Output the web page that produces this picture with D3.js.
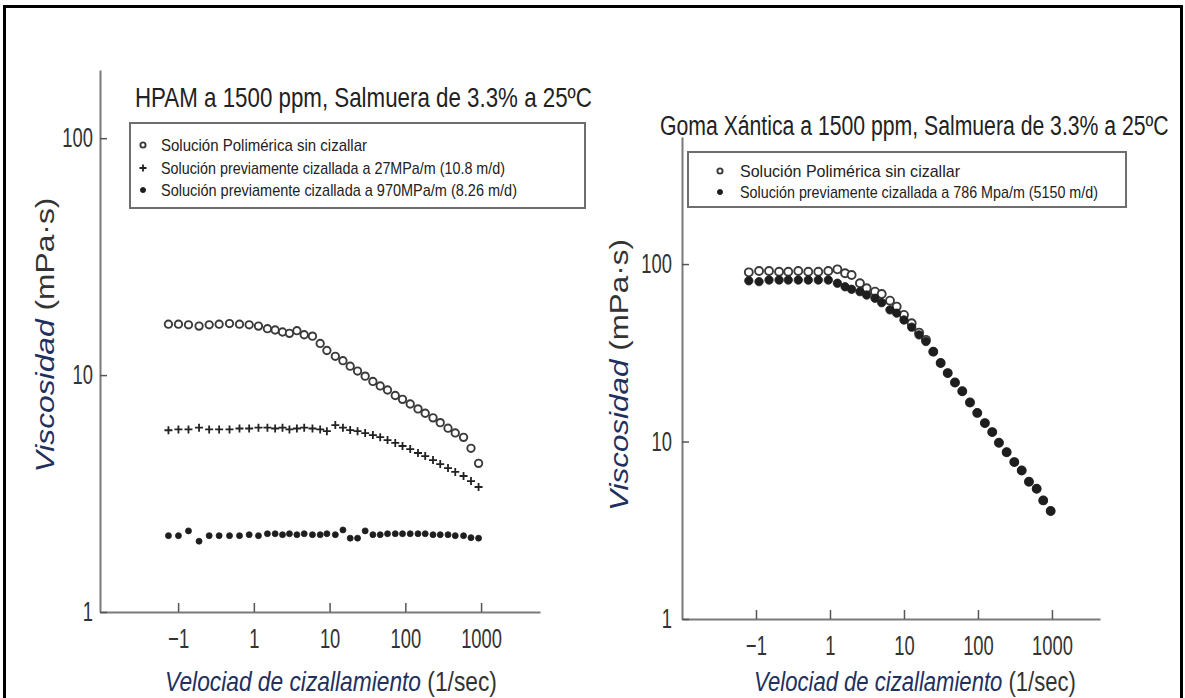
<!DOCTYPE html>
<html>
<head>
<meta charset="utf-8">
<script src="https://d3js.org/d3.v7.min.js"></script>
<style>
  body { margin: 0; background: #fff; }
  svg text { font-family: "Liberation Sans", Arial, sans-serif; }
</style>
</head>
<body>
<div id="chart"></div>
<script>
// ---- values ----
const xTickValues = [0.1, 1, 10, 100, 1000];
const xTickLabels = ["\u22121", "1", "10", "100", "1000"];
const yTickValues = [1, 10, 100];
const yTickLabels = ["1", "10", "100"];

// HPAM panel (shear rate 1/s, viscosity mPa.s)
const titleHpam = "HPAM a 1500 ppm, Salmuera de 3.3% a 25ºC";
const shearHpam = [0.0745, 0.101, 0.137, 0.189, 0.257, 0.348, 0.477, 0.646, 0.867, 1.15,
    1.51, 1.91, 2.39, 2.95, 3.70, 4.62, 5.94, 7.51, 9.21, 11.9,
    15.0, 18.7, 23.4, 29.5, 37.3, 46.6, 58.2, 73.6, 91.8, 116,
    147, 183, 232, 289, 366, 456, 587, 736, 927];
const hpamSinCizallar = [16.4, 16.4, 16.3, 16.1, 16.3, 16.4, 16.5, 16.4, 16.3, 16.1,
    15.7, 15.5, 15.2, 15.0, 15.4, 14.8, 14.6, 13.6, 12.7, 12.0,
    11.5, 10.9, 10.4, 9.9, 9.4, 9.0, 8.65, 8.2, 7.9, 7.55,
    7.2, 6.9, 6.6, 6.3, 5.97, 5.7, 5.46, 4.91, 4.24];
const hpam27 = [5.85, 5.9, 5.9, 6.0, 5.9, 5.9, 5.9, 5.95, 5.95, 6.0,
    6.0, 5.95, 6.0, 5.9, 5.95, 6.0, 5.95, 5.9, 5.8, 6.15,
    6.0, 5.86, 5.80, 5.69, 5.58, 5.47, 5.32, 5.17, 5.02, 4.87,
    4.69, 4.55, 4.38, 4.21, 4.05, 3.90, 3.75, 3.57, 3.37];
const hpam970 = [2.10, 2.10, 2.20, 1.99, 2.10, 2.10, 2.10, 2.10, 2.12, 2.10,
    2.14, 2.14, 2.12, 2.14, 2.12, 2.14, 2.12, 2.12, 2.14, 2.12,
    2.22, 2.05, 2.05, 2.20, 2.12, 2.12, 2.14, 2.14, 2.14, 2.14,
    2.14, 2.14, 2.12, 2.12, 2.12, 2.10, 2.10, 2.06, 2.05];
const legendHpam = ["Solución Polimérica sin cizallar",
    "Solución previamente cizallada a 27MPa/m (10.8 m/d)",
    "Solución previamente cizallada a 970MPa/m (8.26 m/d)"];

// Goma xantica panel
const titleXantica = "Goma Xántica a 1500 ppm, Salmuera de 3.3% a 25ºC";
const shearXantica = [0.080, 0.110, 0.150, 0.205, 0.273, 0.373, 0.509, 0.695, 0.949, 1.26,
    1.60, 1.96, 2.54, 3.13, 4.06, 5.00, 6.47, 7.97, 10.0, 12.7,
    16.0, 19.8, 24.9, 31.3, 39.0, 48.9, 61.4, 78.0, 97.9, 124,
    156, 192, 244, 310, 390, 489, 621, 762, 960];
const xanticaSinCizallar = [89.8, 91.4, 91.4, 90.6, 90.6, 91.4, 90.6, 90.6, 91.4, 93.4,
    88.7, 86.7, 78.0, 73.1, 69.9, 67.8, 62.2, 57.6, 51.7, 46.4,
    41.1, 37.4, 32.1, 27.7, 24.3, 21.5, 19.2, 16.6, 14.5, 12.7,
    11.3, 9.84, 8.71, 7.66, 6.87, 5.94, 5.42, 4.66, 4.06];
const xantica786 = [80.5, 79.6, 81.3, 81.3, 81.3, 81.3, 81.3, 81.3, 81.3, 78.0,
    74.5, 72.1, 69.9, 66.9, 64.2, 60.6, 55.2, 52.9, 48.4, 44.1,
    39.9, 36.6, 32.1, 27.7, 24.3, 21.5, 19.2, 16.6, 14.5, 12.7,
    11.3, 9.84, 8.71, 7.66, 6.87, 5.94, 5.42, 4.66, 4.06];
const legendXantica = ["Solución Polimérica sin cizallar",
    "Solución previamente cizallada a 786 Mpa/m (5150 m/d)"];

const xTitleItalic = "Velociad de cizallamiento";
const xTitleUnit = " (1/sec)";
const yTitleItalic = "Viscosidad";
const yTitleUnit = " (mPa·s)";

// ---- drawing ----
const width = 1185;
const height = 698;

const svg = d3.select("#chart")
    .append("svg")
    .attr("width", width)
    .attr("height", height);

// outer frame (bottom runs off the picture)
svg.append("rect")
    .attr("x", 4.5).attr("y", 6.5)
    .attr("width", 1177).attr("height", 740)
    .attr("fill", "none")
    .attr("stroke", "#000")
    .attr("stroke-width", 3);

// squeeze a text to a given width
function fitWidth(sel, w) {
    sel.each(function () {
        d3.select(this).attr("textLength", w).attr("lengthAdjust", "spacingAndGlyphs");
    });
}
function condense(sel, k) {
    sel.each(function () {
        const w = this.getComputedTextLength();
        d3.select(this).attr("textLength", w * k).attr("lengthAdjust", "spacingAndGlyphs");
    });
}
// place a text at (x, y) and scale it horizontally to width w
function placeScaled(sel, x, y, w, rotate) {
    const k = w / sel.node().getComputedTextLength();
    sel.attr("transform", "translate(" + x + "," + y + ")" +
        (rotate ? " rotate(" + rotate + ")" : "") + " scale(" + k + ",1)");
}

function drawMarks(g, data, type, r, x, y) {
    if (type === "plus") {
        g.append("g").selectAll("path")
            .data(data)
            .join("path")
            .attr("d", d => "M" + (x(d[0]) - r) + "," + y(d[1]) + "h" + (2 * r) +
                "M" + x(d[0]) + "," + (y(d[1]) - r) + "v" + (2 * r))
            .attr("stroke", "#222")
            .attr("stroke-width", 1.8);
    } else {
        g.append("g").selectAll("circle")
            .data(data)
            .join("circle")
            .attr("cx", d => x(d[0]))
            .attr("cy", d => y(d[1]))
            .attr("r", r)
            .attr("fill", type === "open" ? "#fff" : "#1e1e1e")
            .attr("stroke", type === "open" ? "#3a3a3a" : "#1e1e1e")
            .attr("stroke-width", type === "open" ? 1.9 : 0.8);
    }
}

function drawPanel(p) {
    const g = svg.append("g");

    const x = d3.scaleLog().domain(p.xDomain).range([p.left, p.right]);
    const y = d3.scaleLog().domain(p.yDomain).range([p.bottom, p.top]);

    // axes with inward ticks
    const gx = g.append("g")
        .attr("transform", "translate(0," + p.bottom + ")")
        .call(d3.axisBottom(x)
            .tickValues(xTickValues)
            .tickFormat((d, i) => xTickLabels[i])
            .tickSizeInner(-9).tickSizeOuter(0).tickPadding(p.xPad));
    const gy = g.append("g")
        .attr("transform", "translate(" + p.left + ",0)")
        .call(d3.axisLeft(y)
            .tickValues(yTickValues)
            .tickFormat((d, i) => yTickLabels[i])
            .tickSizeInner(-7).tickSizeOuter(0).tickPadding(p.yPad));
    [gx, gy].forEach(function (a) {
        a.attr("font-family", null).attr("font-size", null);
        a.select(".domain").attr("stroke", "#7a7a7a").attr("stroke-width", 2);
        a.selectAll(".tick line").attr("stroke", "#555").attr("stroke-width", 1.5);
        a.selectAll(".tick text")
            .attr("fill", "#333")
            .style("font-size", "27px")
            .call(condense, 0.68);
    });

    // data
    p.series.forEach(function (s) {
        const data = s.values.map((v, i) => [p.shear[i], v]);
        drawMarks(g, data, s.type, s.r, x, y);
    });

    // title
    g.append("text")
        .attr("fill", "#222")
        .style("font-size", p.titleSize + "px")
        .text(p.title)
        .call(placeScaled, p.titleX, p.titleY, p.titleW);

    // legend
    const lg = g.append("g");
    lg.append("rect")
        .attr("x", p.legend.x0).attr("y", p.legend.y0)
        .attr("width", p.legend.x1 - p.legend.x0)
        .attr("height", p.legend.y1 - p.legend.y0)
        .attr("fill", "#fff")
        .attr("stroke", "#6e6e6e")
        .attr("stroke-width", 2);
    p.legend.labels.forEach(function (label, i) {
        const cy = p.legend.rows[i];
        const s = p.series[i];
        drawMarks(lg, [[0, 0]], s.type, s.type === "plus" ? 3.5 : 2.6,
            () => p.legend.markX, () => cy);
        lg.append("text")
            .attr("x", p.legend.textX).attr("y", cy)
            .attr("dy", "0.36em")
            .attr("fill", "#222")
            .style("font-size", "17px")
            .text(label)
            .call(fitWidth, p.legend.widths[i]);
    });

    // x title
    const xt = g.append("text")
        .attr("text-anchor", "middle")
        .style("font-size", "28px");
    xt.append("tspan").attr("font-style", "italic").attr("fill", "#22305e").text(xTitleItalic);
    xt.append("tspan").attr("fill", "#333").text(xTitleUnit);
    xt.call(placeScaled, p.xTitleX, p.xTitleY, p.xTitleW);

    // y title
    const yt = g.append("text")
        .attr("text-anchor", "middle")
        .style("font-size", "26px");
    yt.append("tspan").attr("font-style", "italic").attr("fill", "#22305e").text(yTitleItalic);
    yt.append("tspan").attr("fill", "#333").text(yTitleUnit);
    yt.call(placeScaled, p.yTitleX, p.yTitleY, p.yTitleLen, -90);
}

drawPanel({
    left: 100, right: 540, top: 70, bottom: 612,
    xDomain: [0.0093, 6000], yDomain: [1, 194],
    xPad: 17, yPad: 7,
    shear: shearHpam,
    series: [
        {values: hpamSinCizallar, type: "open", r: 3.7},
        {values: hpam27, type: "plus", r: 4},
        {values: hpam970, type: "dot", r: 3}
    ],
    title: titleHpam, titleX: 135, titleY: 107, titleW: 457, titleSize: 27,
    legend: {
        x0: 130, y0: 123, x1: 585, y1: 208,
        markX: 143, textX: 161,
        rows: [145, 168, 190],
        widths: [206, 344, 356],
        labels: legendHpam
    },
    xTitleX: 331, xTitleY: 691, xTitleW: 332,
    yTitleX: 54, yTitleY: 335, yTitleLen: 275
});

drawPanel({
    left: 682, right: 1100, top: 137, bottom: 619,
    xDomain: [0.01, 4460], yDomain: [1, 520],
    xPad: 17, yPad: 10,
    shear: shearXantica,
    series: [
        {values: xanticaSinCizallar, type: "open", r: 4},
        {values: xantica786, type: "dot", r: 4.2}
    ],
    title: titleXantica, titleX: 660, titleY: 135, titleW: 509, titleSize: 27,
    legend: {
        x0: 688, y0: 152, x1: 1126, y1: 207,
        markX: 720, textX: 740,
        rows: [171, 192],
        widths: [220, 358],
        labels: legendXantica
    },
    xTitleX: 915, xTitleY: 691, xTitleW: 322,
    yTitleX: 628, yTitleY: 375, yTitleLen: 272
});
</script>
</body>
</html>
